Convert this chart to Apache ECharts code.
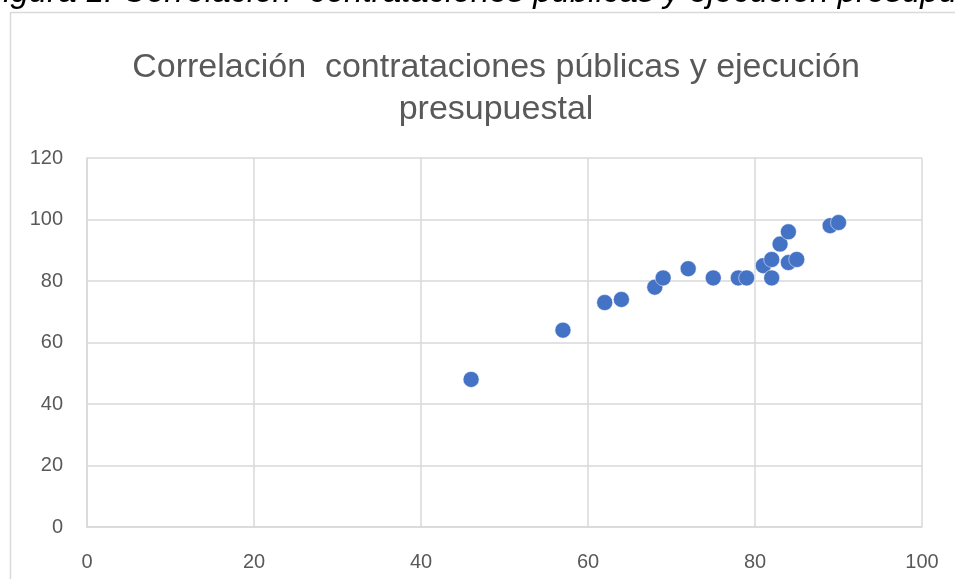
<!DOCTYPE html>
<html>
<head>
<meta charset="utf-8">
<style>
  html, body { margin: 0; padding: 0; background: #fff; }
  #chart { width: 955px; height: 579px; }
</style>
<script src="https://cdn.jsdelivr.net/npm/echarts@6/dist/echarts.min.js"></script>
</head>
<body>
<div id="chart"></div>
<script>
// contrataciones publicas (x) vs ejecucion presupuestal (y)
const contrataciones = [46, 57, 62, 64, 68, 69, 72, 75, 78, 79, 81, 82, 82, 83, 84, 84, 85, 89, 90]
const ejecucion = [48, 64, 73, 74, 78, 81, 84, 81, 81, 81, 85, 87, 81, 92, 96, 86, 87, 98, 99]

const points = contrataciones.map((x, i) => [x, ejecucion[i]])

const chart = echarts.init(document.getElementById('chart'))
chart.setOption({
  animation: false,
  title: {
    text: 'Correlación  contrataciones públicas y ejecución\npresupuestal',
    left: 491, top: 42, textAlign: 'center',
    textStyle: { fontFamily: 'Liberation Sans', fontWeight: 'normal', fontSize: 34, color: '#595959', lineHeight: 42 }
  },
  graphic: [
    {
      type: 'rect', silent: true,
      shape: { x: 10.5, y: 12.5, width: 1000, height: 1000 },
      style: { fill: 'none', stroke: '#d9d9d9', lineWidth: 1.5 }
    },
    {
      type: 'text', silent: true, x: -17, y: 9,
      style: {
        text: 'Figura 1: Correlación  contrataciones públicas y ejecución presupuestal',
        font: 'italic 33px "Liberation Sans"', fill: '#000', verticalAlign: 'bottom'
      }
    }
  ],
  grid: { left: 87, right: 33, top: 158, bottom: 52 },
  xAxis: {
    type: 'value', min: 0, max: 100, interval: 20,
    axisLine: { lineStyle: { color: '#d9d9d9', width: 1.5 } },
    axisTick: { show: false },
    splitLine: { lineStyle: { color: '#d9d9d9', width: 1.5 } },
    axisLabel: { color: '#595959', fontSize: 20, fontFamily: 'Liberation Sans', margin: 25 }
  },
  yAxis: {
    type: 'value', min: 0, max: 120, interval: 20,
    axisLine: { show: true, lineStyle: { color: '#d9d9d9', width: 1.5 } },
    axisTick: { show: false },
    splitLine: { lineStyle: { color: '#d9d9d9', width: 1.5 } },
    axisLabel: { color: '#595959', fontSize: 20, fontFamily: 'Liberation Sans', margin: 24 }
  },
  series: [{
    type: 'scatter',
    data: points,
    symbolSize: 16,
    itemStyle: { color: '#4472C4', opacity: 1, borderColor: '#fff', borderWidth: 0.5 }
  }]
})
</script>
</body>
</html>
